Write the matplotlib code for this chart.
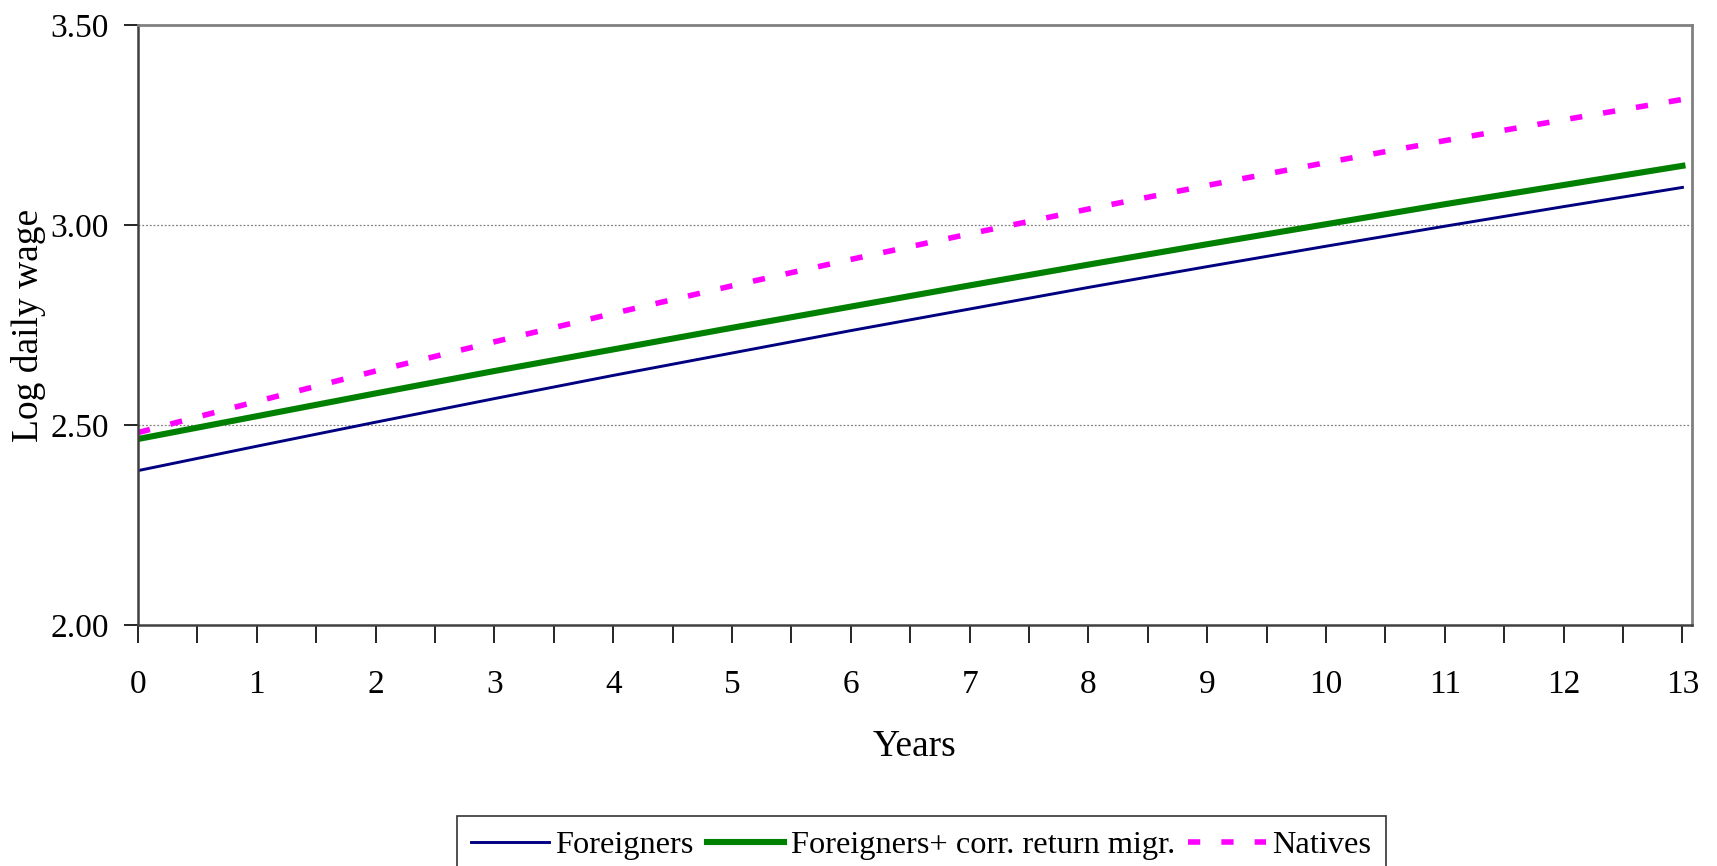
import numpy as np
import matplotlib
matplotlib.use("Agg")
import matplotlib.pyplot as plt

# === データ（年ごとの対数日給） ===
years = list(range(14))
foreigners = [2.386, 2.447, 2.507, 2.566, 2.624, 2.680, 2.736,
              2.790, 2.844, 2.896, 2.947, 2.997, 3.046, 3.094]
foreigners_corr = [2.465, 2.522, 2.579, 2.635, 2.689, 2.743, 2.796,
                   2.849, 2.901, 2.952, 3.002, 3.052, 3.100, 3.148]
natives = [2.481, 2.559, 2.635, 2.708, 2.779, 2.848, 2.914,
           2.978, 3.040, 3.099, 3.156, 3.211, 3.263, 3.314]

series_labels = ["Foreigners", "Foreigners+ corr. return migr.", "Natives"]
y_ticks = [2.00, 2.50, 3.00, 3.50]

plt.rcParams['font.family'] = ['Liberation Serif', 'DejaVu Serif']

# === 描画 ===
fig = plt.figure(figsize=(17.17, 8.66), dpi=100)
ax = fig.add_axes([0.0804, 0.2783, 0.905, 0.6928])

ax.plot(years, foreigners, color='#000080', lw=2.1, label=series_labels[0])
ax.plot(years, foreigners_corr, color='#008000', lw=4.4, label=series_labels[1])
ax.plot(years, natives, color='#FF00FF', lw=4.0, dashes=(2.2, 3.8),
        dash_capstyle='butt', label=series_labels[2])

# === 軸設定 ===
ax.set_xlim(0, 13.08)
ax.set_ylim(2.0, 3.5)
ax.set_yticks(y_ticks)
ax.set_yticklabels([f"{v:.2f}" for v in y_ticks])
ax.set_xticks(years)
ax.set_xticks(np.arange(0.5, 13, 1.0), minor=True)

ax.tick_params(axis='y', direction='out', length=10, width=1.2, pad=11,
               labelsize=24, colors='black')
ax.tick_params(axis='x', which='both', direction='out', length=13, width=1.2,
               pad=19, labelsize=24)
ax.tick_params(axis='x', which='minor', labelbottom=False)

# 補助線（2.50と3.00のみ）
for v in y_ticks[1:3]:
    ax.axhline(v, color='#808080', lw=0.9, ls=(0, (1.5, 1.5)), zorder=0)

for side in ['top', 'right']:
    ax.spines[side].set_color('#808080')
    ax.spines[side].set_linewidth(2.0)
ax.spines['left'].set_color('#404040')
ax.spines['left'].set_linewidth(1.8)
ax.spines['bottom'].set_color('#404040')
ax.spines['bottom'].set_linewidth(1.8)

ax.set_xlabel("Years", fontsize=27, labelpad=21)
ax.set_ylabel("Log daily wage", fontsize=27, labelpad=3)

# === 凡例 ===
leg = fig.legend(loc='upper center', bbox_to_anchor=(0.5365, 0.0577),
                 ncol=3, fontsize=23.3, frameon=True, fancybox=False,
                 handlelength=2.4, handletextpad=0.2, columnspacing=0.4,
                 borderpad=0.45, borderaxespad=0)
leg.get_frame().set_edgecolor('black')
leg.get_frame().set_linewidth(1.2)

fig.savefig("out.png", dpi=100)
